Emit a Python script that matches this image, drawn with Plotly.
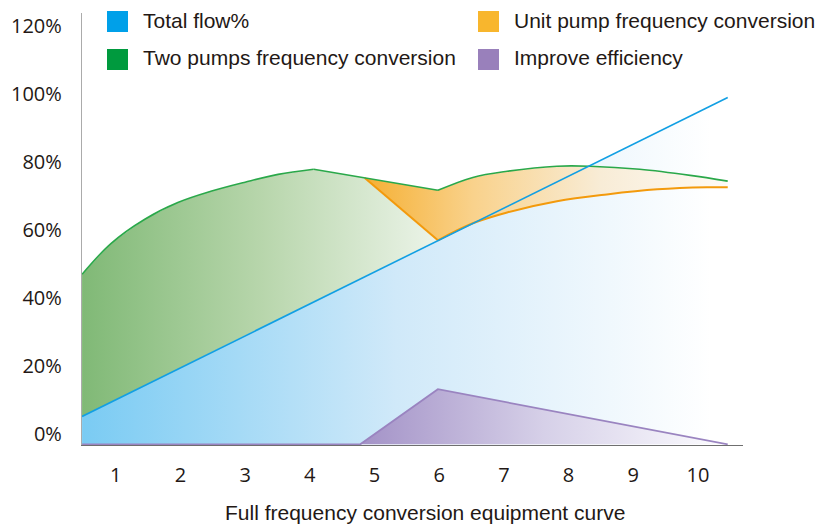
import plotly.graph_objects as go

# ---------------- data ----------------
x_ticks = [1, 2, 3, 4, 5, 6, 7, 8, 9, 10]
y_ticks = [0, 20, 40, 60, 80, 100, 120]
y_tick_text = ["0%", "20%", "40%", "60%", "80%", "100%", "120%"]

# Total flow%
flow_x = [0.48, 10.46]
flow_y = [8.2, 102.0]

# Two pumps frequency conversion (three pieces: rising curve, straight drop, second hump)
two_a_x = [0.48, 0.93, 1.45, 1.96, 2.47, 3.00, 3.51, 4.06]
two_a_y = [50.0, 59.1, 66.2, 71.1, 74.4, 77.1, 79.4, 80.9]
two_b_x = [4.06, 4.85, 5.98]
two_b_y = [80.9, 78.35, 74.7]
two_c_x = [5.98, 6.52, 7.05, 7.82, 8.33, 9.10, 9.88, 10.46]
two_c_y = [74.7, 78.5, 80.3, 81.8, 81.8, 80.9, 79.1, 77.4]

# Unit pump frequency conversion
unit_a_x = [4.85, 5.98]
unit_a_y = [78.35, 60.0]
unit_b_x = [5.98, 6.52, 7.05, 7.82, 8.59, 9.37, 10.14, 10.46]
unit_b_y = [60.0, 65.0, 68.2, 71.5, 73.5, 75.0, 75.6, 75.6]

# Improve efficiency
eff_x = [0.48, 4.78, 5.98, 10.46]
eff_y = [0.0, 0.0, 16.2, 0.0]

legend_labels = ["Total flow%", "Two pumps frequency conversion",
                 "Unit pump frequency conversion", "Improve efficiency"]
legend_colors = ["#00a0e9", "#009a3e", "#f8b62d", "#9980bb"]
x_title = "Full frequency conversion equipment curve"

# ---------------- styling ----------------
C_BLUE = "#119fe3"
C_GREEN = "#2aa84a"
C_ORANGE = "#f39a0c"
C_PURPLE = "#9a84c0"
TXT = "#231815"
TICK_FONT = dict(family="Open Sans", size=20, color=TXT)
LBL_FONT = dict(family="Liberation Sans, Arial", size=21, color=TXT)

W, H = 825, 524
L, R, T, B = 82, 82, 13, 79
PW, PH = W - L - R, H - T - B


def px_x(p):
    return (p - L) / PW


def px_y(p):
    return (H - B - p) / PH


fig = go.Figure()

# --- fills (drawn first) ---
fig.add_trace(go.Scatter(
    x=[flow_x[0]] + flow_x + [flow_x[-1]], y=[0] + flow_y + [0],
    fill="toself", mode="none", name="flow area", showlegend=False, hoverinfo="skip",
    fillgradient=dict(type="horizontal", start=flow_x[0], stop=10.2,
                      colorscale=[[0, "rgb(122,203,243)"], [0.5, "rgb(208,233,249)"],
                                  [1, "rgb(255,255,255)"]])))

green_poly_x = two_a_x + two_b_x[1:] + [flow_x[0]]
green_poly_y = two_a_y + [two_b_y[1], unit_a_y[1]] + [flow_y[0]]
fig.add_trace(go.Scatter(
    x=green_poly_x, y=green_poly_y,
    fill="toself", mode="none", name="two pumps area", showlegend=False, hoverinfo="skip",
    fillgradient=dict(type="horizontal", start=two_a_x[0], stop=6.7,
                      colorscale=[[0, "rgb(128,185,118)"], [0.45, "rgb(184,214,172)"],
                                  [1, "rgb(250,252,249)"]])))

orange_poly_x = two_b_x[1:] + two_c_x[1:] + unit_b_x[::-1] + [unit_a_x[0]]
orange_poly_y = two_b_y[1:] + two_c_y[1:] + unit_b_y[::-1] + [unit_a_y[0]]
fig.add_trace(go.Scatter(
    x=orange_poly_x, y=orange_poly_y,
    fill="toself", mode="none", name="unit pump area", showlegend=False, hoverinfo="skip",
    fillgradient=dict(type="horizontal", start=unit_a_x[0], stop=10.46,
                      colorscale=[[0, "rgb(245,176,52)"], [0.3, "rgb(249,210,140)"],
                                  [0.65, "rgb(248,236,214)"], [1, "rgb(254,251,246)"]])))

fig.add_trace(go.Scatter(
    x=eff_x[1:], y=eff_y[1:],
    fill="toself", mode="none", name="efficiency area", showlegend=False, hoverinfo="skip",
    fillgradient=dict(type="horizontal", start=eff_x[1], stop=eff_x[-1],
                      colorscale=[[0, "rgb(163,146,199)"], [0.5, "rgb(214,208,232)"],
                                  [1, "rgb(253,253,255)"]])))

# --- lines ---
fig.add_trace(go.Scatter(x=eff_x, y=eff_y, mode="lines", name=legend_labels[3],
                         line=dict(color=C_PURPLE, width=1.8), showlegend=False))
fig.add_trace(go.Scatter(x=unit_a_x, y=unit_a_y, mode="lines", name=legend_labels[2],
                         line=dict(color=C_ORANGE, width=2), showlegend=False))
fig.add_trace(go.Scatter(x=unit_b_x, y=unit_b_y, mode="lines", name=legend_labels[2],
                         line=dict(color=C_ORANGE, width=2, shape="spline"), showlegend=False))
fig.add_trace(go.Scatter(x=two_a_x, y=two_a_y, mode="lines", name=legend_labels[1],
                         line=dict(color=C_GREEN, width=1.6, shape="spline"), showlegend=False))
fig.add_trace(go.Scatter(x=two_b_x, y=two_b_y, mode="lines", name=legend_labels[1],
                         line=dict(color=C_GREEN, width=1.6), showlegend=False))
fig.add_trace(go.Scatter(x=two_c_x, y=two_c_y, mode="lines", name=legend_labels[1],
                         line=dict(color=C_GREEN, width=1.6, shape="spline"), showlegend=False))
fig.add_trace(go.Scatter(x=flow_x, y=flow_y, mode="lines", name=legend_labels[0],
                         line=dict(color=C_BLUE, width=1.6), showlegend=False))

# --- custom legend (squares + text) ---
legend_pos = [(107, 11), (107, 49), (478, 11), (478, 49)]
shapes, annotations = [], []
for (lx, ly), lab, col in zip(legend_pos, legend_labels, legend_colors):
    shapes.append(dict(type="rect", xref="paper", yref="paper",
                       x0=px_x(lx), x1=px_x(lx + 21), y0=px_y(ly + 21), y1=px_y(ly),
                       fillcolor=col, line=dict(width=0)))
    annotations.append(dict(xref="paper", yref="paper", x=px_x(lx + 34), y=px_y(ly + 9),
                            xanchor="left", yanchor="middle", text=lab, showarrow=False,
                            font=LBL_FONT))

annotations.append(dict(xref="paper", yref="paper", x=px_x(425), y=px_y(512),
                        xanchor="center", yanchor="middle", text=x_title, showarrow=False,
                        font=LBL_FONT))

fig.update_layout(
    width=W, height=H,
    margin=dict(l=L, r=R, t=T, b=B, pad=0, autoexpand=False),
    paper_bgcolor="white", plot_bgcolor="white",
    showlegend=False,
    shapes=shapes, annotations=annotations,
    xaxis=dict(range=[0.479, 10.696], tickvals=x_ticks, ticktext=[str(v) for v in x_ticks],
               showgrid=False, zeroline=False, showline=True, linecolor="#6f6f6f",
               linewidth=1.3, ticks="", tickfont=TICK_FONT, ticklabelstandoff=12,
               layer="below traces", automargin=False),
    yaxis=dict(range=[-0.2, 126.85], tickvals=y_ticks, ticktext=y_tick_text,
               showgrid=False, zeroline=False, showline=True, linecolor="#ababab",
               linewidth=1.3, ticks="", tickfont=TICK_FONT, ticklabelstandoff=15,
               ticklabelshift=-10, layer="below traces", automargin=False),
)

fig.write_html("out.html", config={"displayModeBar": False},
               post_script="document.body.style.margin='0';document.body.style.overflow='hidden';")
